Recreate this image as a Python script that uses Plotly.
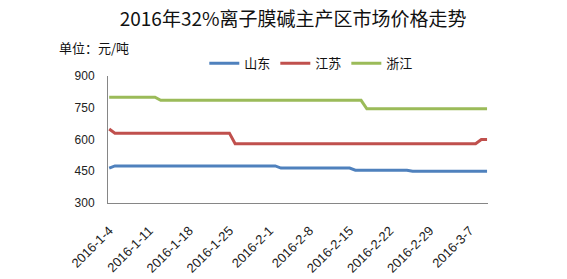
import pandas as pd
import plotly.graph_objects as go

dates = pd.date_range("2016-01-04", "2016-03-10", freq="D")

shandong = [
    465, 475, 475, 475, 475, 475, 475,
    475, 475, 475, 475, 475, 475, 475,
    475, 475, 475, 475, 475, 475, 475,
    475, 475, 475, 475, 475, 475, 475,
    475, 475, 465, 465, 465, 465, 465,
    465, 465, 465, 465, 465, 465, 465,
    465, 455, 455, 455, 455, 455, 455,
    455, 455, 455, 455, 450, 450, 450,
    450, 450, 450, 450, 450, 450, 450,
    450, 450, 450, 450,
]
jiangsu = [
    650, 630, 630, 630, 630, 630, 630,
    630, 630, 630, 630, 630, 630, 630,
    630, 630, 630, 630, 630, 630, 630,
    630, 580, 580, 580, 580, 580, 580,
    580, 580, 580, 580, 580, 580, 580,
    580, 580, 580, 580, 580, 580, 580,
    580, 580, 580, 580, 580, 580, 580,
    580, 580, 580, 580, 580, 580, 580,
    580, 580, 580, 580, 580, 580, 580,
    580, 580, 600, 600,
]
zhejiang = [
    800, 800, 800, 800, 800, 800, 800,
    800, 800, 785, 785, 785, 785, 785,
    785, 785, 785, 785, 785, 785, 785,
    785, 785, 785, 785, 785, 785, 785,
    785, 785, 785, 785, 785, 785, 785,
    785, 785, 785, 785, 785, 785, 785,
    785, 785, 785, 745, 745, 745, 745,
    745, 745, 745, 745, 745, 745, 745,
    745, 745, 745, 745, 745, 745, 745,
    745, 745, 745, 745,
]

tick_dates = ["2016-01-04", "2016-01-11", "2016-01-18", "2016-01-25", "2016-02-01",
              "2016-02-08", "2016-02-15", "2016-02-22", "2016-02-29", "2016-03-07"]
tick_labels = ["2016-1-4", "2016-1-11", "2016-1-18", "2016-1-25", "2016-2-1",
               "2016-2-8", "2016-2-15", "2016-2-22", "2016-2-29", "2016-3-7"]

series = [("山东", shandong, "#4F81BD"), ("江苏", jiangsu, "#C0504D"), ("浙江", zhejiang, "#9BBB59")]

fig = go.Figure()
for name, vals, col in series:
    fig.add_trace(go.Scatter(x=dates, y=vals, mode="lines", name=name,
                             line=dict(color=col, width=3)))

cjk = "Noto Sans CJK SC"
fig.update_layout(
    width=567, height=279,
    margin=dict(l=108, r=79, t=76, b=76),
    paper_bgcolor="white", plot_bgcolor="white",
    title=dict(text="2016年32%离子膜碱主产区市场价格走势", x=0.517, xanchor="center",
               y=0.93, yanchor="middle", yref="container",
               font=dict(family=cjk, size=19, color="#111111")),
    showlegend=True,
    legend=dict(orientation="h", x=0.535, xanchor="center", y=1.10, yanchor="middle",
                font=dict(family=cjk, size=13, color="#111111"),
                itemwidth=30, tracegroupgap=0, bgcolor="rgba(0,0,0,0)"),
    xaxis=dict(range=["2016-01-03 19:00", "2016-03-10 04:00"], tickvals=tick_dates,
               ticktext=tick_labels, tickangle=-45, showgrid=False, zeroline=False,
               showline=True, linecolor="#868686", linewidth=1, ticks="",
               ticklabelstandoff=14, automargin=False,
               tickfont=dict(family="Liberation Sans", size=13, color="#222222")),
    yaxis=dict(range=[300, 900], tickvals=[300, 450, 600, 750, 900], showgrid=False,
               zeroline=False, showline=True, linecolor="#868686", linewidth=1, ticks="",
               ticklabelstandoff=10, automargin=False,
               tickfont=dict(family="Liberation Sans", size=12, color="#222222")),
    annotations=[dict(text="单位：元/吨", xref="paper", yref="paper", x=-0.134, y=1.228,
                      xanchor="left", yanchor="middle", showarrow=False,
                      font=dict(family=cjk, size=13, color="#111111"))],
)

fig.write_html("out.html")
